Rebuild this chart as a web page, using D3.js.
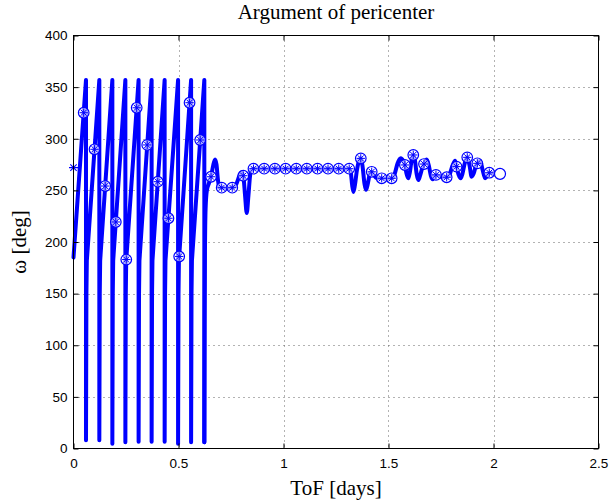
<!DOCTYPE html>
<html>
<head>
<meta charset="utf-8">
<script src="https://cdn.jsdelivr.net/npm/d3@7"></script>
<style>
  body { margin: 0; background: #fff; }
  svg { display: block; }
</style>
</head>
<body>
<svg id="chart" width="609" height="500"></svg>
<script>
// ---- Values -------------------------------------------------------------
const titleText = "Argument of pericenter";
const xLabelText = "ToF [days]";
const yLabelText = "ω [deg]";

const xTicks = [0, 0.5, 1, 1.5, 2, 2.5];
const xTickLabels = ["0", "0.5", "1", "1.5", "2", "2.5"];
const yTicks = [0, 50, 100, 150, 200, 250, 300, 350, 400];
const yTickLabels = ["0", "50", "100", "150", "200", "250", "300", "350", "400"];

// ToF [days], ω [deg] — wrap-around phase (ω drops 360 → 0 each revolution)
const wrapPhase = [
  [0, 185], [0.0595, 357],
  [0.0595, 8], [0.0615, 150], [0.0635, 182], [0.123, 357],
  [0.123, 8], [0.125, 150], [0.127, 182], [0.185, 357],
  [0.185, 4.5], [0.187, 150], [0.189, 182], [0.247, 357],
  [0.247, 6], [0.249, 150], [0.251, 182], [0.310, 357],
  [0.310, 6.5], [0.312, 150], [0.314, 182], [0.372, 357],
  [0.372, 6.5], [0.374, 150], [0.376, 182], [0.434, 357],
  [0.434, 6.5], [0.436, 150], [0.438, 182], [0.498, 357],
  [0.498, 4.5], [0.500, 150], [0.502, 182], [0.560, 357],
  [0.560, 6], [0.562, 150], [0.564, 182], [0.623, 357],
  [0.623, 6]
];

// ToF [days], ω [deg] — settled phase
const settledPhase = [
  [0.623, 6], [0.6245, 120], [0.626, 190], [0.629, 232], [0.635, 250],
  [0.645, 257], [0.655, 263.2], [0.665, 274], [0.674, 280], [0.681, 275],
  [0.688, 260], [0.695, 252.6], [0.7057, 252.6], [0.730, 252], [0.756, 252.6],
  [0.775, 256], [0.790, 264], [0.801, 267.5], [0.8086, 264.2], [0.817, 245],
  [0.825, 228], [0.833, 245], [0.842, 266], [0.851, 271], [0.857, 271],
  [0.908, 271], [0.959, 271], [1.010, 271], [1.061, 271], [1.111, 271],
  [1.162, 271], [1.212, 271], [1.263, 271], [1.313, 271], [1.320, 268],
  [1.327, 255], [1.333, 248.5], [1.340, 255], [1.350, 270], [1.360, 279],
  [1.368, 281], [1.376, 274], [1.386, 256], [1.393, 250.5], [1.401, 256],
  [1.411, 266], [1.420, 268], [1.430, 265], [1.442, 262], [1.4676, 261.7],
  [1.515, 261.7], [1.528, 265], [1.543, 276], [1.558, 281], [1.570, 278.5],
  [1.578, 274.6], [1.586, 266], [1.594, 261.7], [1.602, 268], [1.610, 279],
  [1.618, 284.3], [1.626, 279], [1.634, 266], [1.642, 260], [1.650, 264],
  [1.660, 271], [1.669, 275.5], [1.682, 280], [1.692, 274], [1.702, 264],
  [1.710, 260.7], [1.718, 263.5], [1.726, 265], [1.745, 263.5], [1.777, 262.7],
  [1.790, 265], [1.805, 274], [1.817, 278.7], [1.824, 273], [1.834, 265],
  [1.844, 261.7], [1.852, 266], [1.864, 277], [1.875, 282], [1.886, 274],
  [1.896, 263.2], [1.905, 266], [1.915, 273], [1.923, 276.2], [1.936, 278.7],
  [1.948, 270], [1.960, 261.7], [1.970, 264], [1.980, 267.1], [2.000, 266.5],
  [2.025, 266]
];

// Sampled states shown with ⊛ markers
const sampledStates = [
  [0.0485, 325.2], [0.1002, 289.8], [0.1509, 254.2], [0.2014, 219.4],
  [0.2513, 183], [0.3009, 330], [0.3511, 294], [0.4013, 258.4],
  [0.4521, 223], [0.5033, 186], [0.5527, 334.9], [0.6034, 298.8],
  [0.655, 263.2], [0.7057, 252.6], [0.756, 252.6], [0.8086, 264.2],
  [0.857, 271], [0.908, 271], [0.959, 271], [1.010, 271], [1.061, 271],
  [1.111, 271], [1.162, 271], [1.212, 271], [1.263, 271], [1.313, 271],
  [1.368, 281], [1.420, 268], [1.4676, 261.7], [1.515, 261.7],
  [1.578, 274.6], [1.618, 284.3], [1.669, 275.5], [1.726, 265],
  [1.777, 262.7], [1.824, 273], [1.875, 282], [1.923, 276.2], [1.980, 267.1]
];

const initialState = [[0, 272]];   // start (asterisk)
const finalState = [[2.031, 266]];  // end (open circle)

// ---- Layout -------------------------------------------------------------
const svg = d3.select("#chart");
const plotL = 73.5, plotR = 598.5, plotT = 35.5, plotB = 448.5;
const blue = "#0000ff";

const x = d3.scaleLinear().domain([0, 2.5]).range([plotL, plotR]);
const y = d3.scaleLinear().domain([0, 400]).range([plotB, plotT]);

// Dotted grid
const grid = svg.append("g")
  .attr("stroke", "#666").attr("stroke-width", 1).attr("stroke-dasharray", "1,4");
grid.selectAll("line.gx").data(xTicks.slice(1, -1)).join("line")
  .attr("x1", d => Math.round(x(d)) + 0.5).attr("x2", d => Math.round(x(d)) + 0.5)
  .attr("y1", plotT).attr("y2", plotB);
grid.selectAll("line.gy").data(yTicks.slice(1, -1)).join("line")
  .attr("y1", d => Math.round(y(d)) + 0.5).attr("y2", d => Math.round(y(d)) + 0.5)
  .attr("x1", plotL).attr("x2", plotR);

// Trajectory
svg.append("path")
  .datum(wrapPhase)
  .attr("d", d3.line().x(d => x(d[0])).y(d => y(d[1])).curve(d3.curveLinear))
  .attr("fill", "none").attr("stroke", blue).attr("stroke-width", 4)
  .attr("stroke-linejoin", "round").attr("stroke-linecap", "round");
svg.append("path")
  .datum(settledPhase)
  .attr("d", d3.line().x(d => x(d[0])).y(d => y(d[1])).curve(d3.curveMonotoneX))
  .attr("fill", "none").attr("stroke", blue).attr("stroke-width", 4)
  .attr("stroke-linejoin", "round").attr("stroke-linecap", "round");

// Asterisk path of radius r
function asterisk(r) {
  const d = r * Math.SQRT1_2;
  return `M0,${-r}V${r}M${-r},0H${r}M${-d},${-d}L${d},${d}M${-d},${d}L${d},${-d}`;
}

// ⊛ markers
const mk = svg.append("g").selectAll("g").data(sampledStates).join("g")
  .attr("transform", d => `translate(${x(d[0])},${y(d[1])})`);
mk.append("circle").attr("r", 5.3)
  .attr("fill", "rgba(255,255,255,0.65)").attr("stroke", blue).attr("stroke-width", 1.2);
mk.append("path").attr("d", asterisk(4.2))
  .attr("fill", "none").attr("stroke", blue).attr("stroke-width", 1);

// Start asterisk
svg.append("g").selectAll("path").data(initialState).join("path")
  .attr("transform", d => `translate(${x(d[0])},${y(d[1])})`)
  .attr("d", asterisk(4.5))
  .attr("fill", "none").attr("stroke", blue).attr("stroke-width", 1.1);

// End circle
svg.append("g").selectAll("circle").data(finalState).join("circle")
  .attr("cx", d => x(d[0])).attr("cy", d => y(d[1])).attr("r", 5.5)
  .attr("fill", "#fff").attr("stroke", blue).attr("stroke-width", 1.2);

// Axes (ticks pointing inward)
const tickFont = "'Liberation Sans', Arial, sans-serif";
const xAxis = svg.append("g").attr("transform", `translate(0,${plotB})`)
  .call(d3.axisBottom(x).tickValues(xTicks).tickFormat((d, i) => xTickLabels[i])
    .tickSizeInner(-5).tickSizeOuter(0).tickPadding(10));
const yAxis = svg.append("g").attr("transform", `translate(${plotL},0)`)
  .call(d3.axisLeft(y).tickValues(yTicks).tickFormat((d, i) => yTickLabels[i])
    .tickSizeInner(-5).tickSizeOuter(0).tickPadding(6));
const xTopAxis = svg.append("g").attr("transform", `translate(0,${plotT})`)
  .call(d3.axisTop(x).tickValues(xTicks).tickFormat("").tickSizeInner(-5).tickSizeOuter(0));
const yRightAxis = svg.append("g").attr("transform", `translate(${plotR},0)`)
  .call(d3.axisRight(y).tickValues(yTicks).tickFormat("").tickSizeInner(-5).tickSizeOuter(0));
[xAxis, yAxis, xTopAxis, yRightAxis].forEach(g => {
  g.select(".domain").remove();
  g.selectAll("line").attr("stroke", "#000");
  g.selectAll("text").attr("fill", "#000").style("font-family", tickFont).style("font-size", "13.5px");
});

// Frame
svg.append("rect")
  .attr("x", plotL).attr("y", plotT).attr("width", plotR - plotL).attr("height", plotB - plotT)
  .attr("fill", "none").attr("stroke", "#000").attr("stroke-width", 1);

// Titles
const serif = "'Liberation Serif', 'Times New Roman', serif";
svg.append("text").attr("x", (plotL + plotR) / 2).attr("y", 19)
  .attr("text-anchor", "middle").style("font-family", serif).style("font-size", "21px")
  .text(titleText);
svg.append("text").attr("x", (plotL + plotR) / 2).attr("y", 495)
  .attr("text-anchor", "middle").style("font-family", serif).style("font-size", "21px")
  .text(xLabelText);
svg.append("text")
  .attr("transform", `translate(26,${(plotT + plotB) / 2}) rotate(-90)`)
  .attr("text-anchor", "middle").style("font-family", serif).style("font-size", "21px")
  .text(yLabelText);
</script>
</body>
</html>
